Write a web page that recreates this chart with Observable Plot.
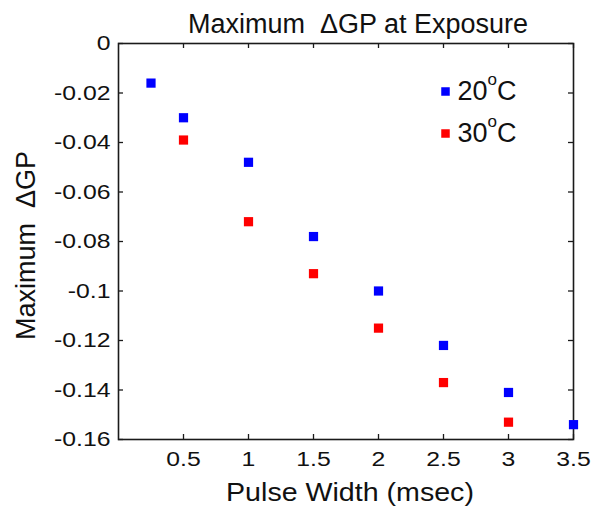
<!DOCTYPE html>
<html>
<head>
<meta charset="utf-8">
<script src="https://cdn.jsdelivr.net/npm/d3@7"></script>
<script src="https://cdn.jsdelivr.net/npm/@observablehq/plot@0.6"></script>
<style>
  html, body { margin: 0; padding: 0; background: #fff; }
  #chart svg { display: block; }
</style>
</head>
<body>
<div id="chart"></div>
<script>
// ---- data ----
const pulse20 = [0.25, 0.5, 1, 1.5, 2, 2.5, 3, 3.5];
const dgp20   = [-0.016, -0.030, -0.048, -0.078, -0.100, -0.122, -0.141, -0.154];
const pulse30 = [0.5, 1, 1.5, 2, 2.5, 3];
const dgp30   = [-0.039, -0.072, -0.093, -0.115, -0.137, -0.153];

const seriesNames  = ["20oC", "30oC"];
const seriesColors = ["#0000ff", "#ff0000"];

const xTicks = [0.5, 1, 1.5, 2, 2.5, 3, 3.5];
const yTicks = [0, -0.02, -0.04, -0.06, -0.08, -0.1, -0.12, -0.14, -0.16];
const xDomain = [0, 3.5];
const yDomain = [-0.16, 0];

const titleText  = ["Maximum  \u0394GP at Exposure"];
const xLabelText = ["Pulse Width (msec)"];
const yLabelText = ["Maximum  \u0394GP"];

// ---- layout ----
const W = 597, H = 510;
const mL = 118, mR = 24, mT = 43, mB = 71;
const frameW = W - mL - mR, frameH = H - mT - mB;
const tickLen = 5;

// ---- build table ----
const points = [
  ...pulse20.map((x, i) => ({x, y: dgp20[i], s: seriesNames[0]})),
  ...pulse30.map((x, i) => ({x, y: dgp30[i], s: seriesNames[1]}))
];

const axisColor = "#1a1a1a";
const fmt = d => String(d);

const legendMarks = seriesNames.flatMap((name, i) => [
  Plot.dot([name], {frameAnchor: "top-right", dx: -128, dy: 48 + i * 42,
    symbol: "square", r: 4.8, fill: seriesColors[i], stroke: "none"}),
  Plot.text([name], {frameAnchor: "top-right", dx: -116, dy: 48 + i * 42,
    text: d => d, textAnchor: "start", lineAnchor: "middle",
    fontSize: 27, fill: "#111"})
]);

const chart = Plot.plot({
  width: W,
  height: H,
  marginLeft: mL,
  marginRight: mR,
  marginTop: mT,
  marginBottom: mB,
  style: {fontFamily: "'Liberation Sans', Arial, sans-serif", fontSize: "21px", background: "#fff", color: "#111"},
  x: {domain: xDomain, label: null},
  y: {domain: yDomain, label: null},
  color: {domain: seriesNames, range: seriesColors},
  marks: [
    // inward ticks on all four sides
    Plot.ruleX(xTicks, {x: d => d, insetTop: frameH - tickLen, stroke: axisColor, strokeWidth: 1.3}),
    Plot.ruleX(xTicks, {x: d => d, insetBottom: frameH - tickLen, stroke: axisColor, strokeWidth: 1.3}),
    Plot.ruleY(yTicks, {y: d => d, insetRight: frameW - tickLen, stroke: axisColor, strokeWidth: 1.3}),
    Plot.ruleY(yTicks, {y: d => d, insetLeft: frameW - tickLen, stroke: axisColor, strokeWidth: 1.3}),
    Plot.frame({stroke: axisColor, strokeWidth: 1.6}),
    Plot.axisX(xTicks, {anchor: "bottom", tickSize: 0, tickPadding: 12, tickFormat: fmt, label: null, fontSize: 21}),
    Plot.axisY(yTicks, {anchor: "left", tickSize: 0, tickPadding: 8, tickFormat: fmt, label: null, fontSize: 21}),
    Plot.dot(points, {x: "x", y: "y", fill: "s", symbol: "square", r: 5.2, stroke: "none"}),
    Plot.text(titleText, {frameAnchor: "top", dx: 12, dy: -11, text: d => d, lineAnchor: "bottom", fontSize: 27, fill: "#111"}),
    Plot.text(xLabelText, {frameAnchor: "bottom", dx: 4, dy: 61, text: d => d, lineAnchor: "bottom", fontSize: 26, fill: "#111"}),
    Plot.text(yLabelText, {frameAnchor: "left", dx: -84, dy: 4, rotate: -90, textAnchor: "middle", text: d => d, lineAnchor: "bottom", fontSize: 27, fill: "#111"}),
    ...legendMarks
  ]
});

document.getElementById("chart").appendChild(chart);

// horizontal stretch of text, around each text's own anchor point
function stretchX(el, s) {
  const x = parseFloat(el.getAttribute("x")) || 0;
  const t = el.getAttribute("transform") || "";
  el.setAttribute("transform", `${t} translate(${x},0) scale(${s},1) translate(${-x},0)`.trim());
}
chart.querySelectorAll('g[aria-label="x-axis tick label"] text, g[aria-label="y-axis tick label"] text')
  .forEach(t => stretchX(t, 1.18));
chart.querySelectorAll("text").forEach(t => {
  if (t.textContent === xLabelText[0]) stretchX(t, 1.1);
});

// superscript "o" in the legend labels
const svgNS = "http://www.w3.org/2000/svg";
chart.querySelectorAll("text").forEach(t => {
  const m = /^(\d+)oC$/.exec(t.textContent);
  if (!m) return;
  while (t.firstChild) t.removeChild(t.firstChild);
  const a = document.createElementNS(svgNS, "tspan");
  a.textContent = m[1];
  const o = document.createElementNS(svgNS, "tspan");
  o.textContent = "o"; o.setAttribute("font-size", "17"); o.setAttribute("dy", "-15");
  const c = document.createElementNS(svgNS, "tspan");
  c.textContent = "C"; c.setAttribute("dy", "15");
  t.append(a, o, c);
});
</script>
</body>
</html>
